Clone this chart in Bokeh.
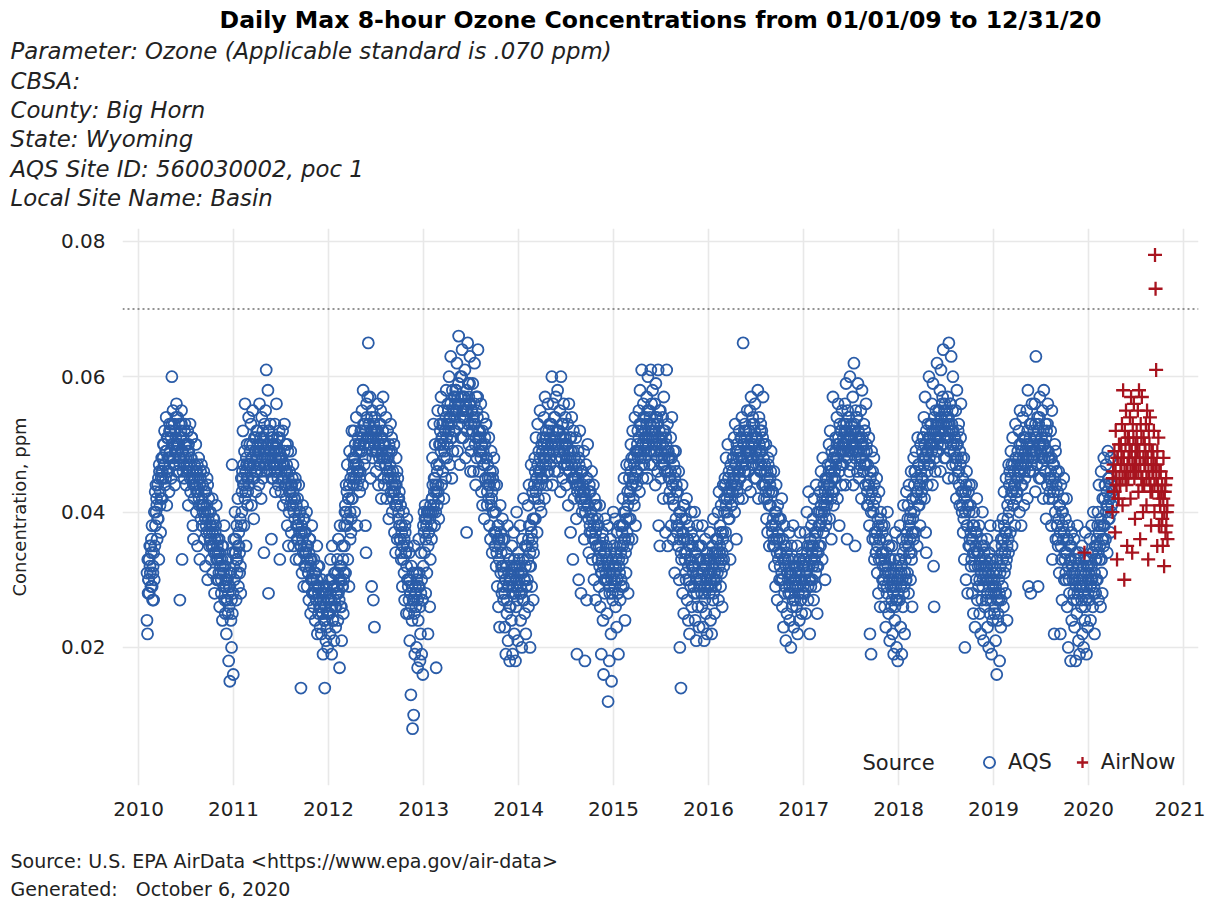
import calendar
from datetime import datetime, timedelta

from bokeh.plotting import figure
from bokeh.layouts import column
from bokeh.models import (Range1d, FixedTicker, DatetimeTickFormatter, NumeralTickFormatter,
                          Span, Label, Legend, LegendItem)
from bokeh.embed import file_html
from bokeh.resources import INLINE

FONT = "DejaVu Sans"

# ---------------- text ----------------
title_text = "Daily Max 8-hour Ozone Concentrations from 01/01/09 to 12/31/20"
subtitle_lines = [
    "Parameter: Ozone (Applicable standard is .070 ppm)",
    "CBSA:",
    "County: Big Horn",
    "State: Wyoming",
    "AQS Site ID: 560030002, poc 1",
    "Local Site Name: Basin",
]
footer_lines = [
    "Source: U.S. EPA AirData <https://www.epa.gov/air-data>",
    "Generated:\u00a0\u00a0 October 6, 2020",
]
y_axis_title = "Concentration, ppm"
legend_title = "Source"
series_names = ["AQS", "AirNow"]
standard_ppm = 0.070
tick_years = list(range(2010, 2022))
y_ticks = [0.02, 0.04, 0.06, 0.08]

# ---------------- data: daily max 8-hr ozone (ppb), one list per month ----------------
# (spread values: outer envelope of each month's cloud)
aqs_2010 = [
    [],
    [24, 22, 28, 30, 33, 35, 31, 29, 36, 38, 27, 32, 34],
    [30, 35, 38, 40, 42, 36, 44, 39, 33, 46, 41, 37, 45, 48],
    [42, 45, 50, 47, 52, 44, 49, 54, 41, 46, 51, 48, 43, 53],
    [48, 52, 45, 60, 50, 55, 47, 53, 44, 49, 51, 56, 46, 54],
    [46, 50, 53, 27, 48, 52, 55, 33, 49, 51, 47, 45, 53, 50],
    [44, 50, 47, 52, 41, 49, 46, 53, 43, 48, 51, 45, 38, 36],
    [42, 47, 44, 50, 40, 46, 35, 43, 48, 41, 33, 45, 39, 47],
    [38, 44, 41, 46, 36, 40, 32, 43, 37, 45, 30, 39, 42, 35],
    [36, 40, 33, 38, 42, 31, 35, 39, 28, 37, 34, 41, 30, 36],
    [34, 30, 36, 26, 33, 31, 28, 35, 24, 32, 29, 38, 27, 25],
    [30, 22, 27, 33, 25, 18, 29, 15, 31, 24, 20, 47, 34, 16],
]
aqs_2011 = [
    [36, 30, 40, 34, 27, 38, 33, 42, 29, 35, 31, 39, 28, 45],
    [40, 46, 52, 44, 38, 49, 56, 43, 35, 47, 50, 41, 45, 54],
    [44, 50, 47, 53, 41, 48, 55, 45, 39, 51, 46, 49, 43, 52],
    [46, 52, 49, 44, 56, 47, 50, 42, 54, 48, 45, 51, 34, 53],
    [48, 55, 61, 46, 50, 58, 28, 52, 47, 53, 49, 36, 45, 51],
    [45, 50, 47, 53, 43, 49, 56, 46, 51, 44, 48, 52, 33, 47],
    [43, 48, 45, 52, 41, 47, 53, 44, 50, 42, 46, 38, 49, 35],
    [40, 46, 43, 49, 37, 44, 41, 47, 35, 42, 39, 45, 33, 38],
    [36, 42, 38, 44, 33, 40, 35, 14, 37, 31, 41, 34, 29, 39],
    [32, 37, 34, 40, 29, 35, 31, 27, 36, 33, 25, 30, 38, 28],
    [30, 26, 33, 28, 24, 31, 27, 35, 22, 29, 25, 32, 26, 23],
    [27, 22, 30, 25, 19, 28, 24, 14, 26, 21, 29, 23, 20, 25],
]
aqs_2012 = [
    [25, 30, 22, 33, 27, 19, 35, 24, 29, 21, 31, 26, 23, 28],
    [28, 33, 24, 36, 30, 17, 38, 26, 32, 21, 35, 29, 25, 31],
    [35, 40, 31, 44, 38, 47, 33, 42, 29, 49, 36, 45, 39, 52],
    [42, 48, 45, 52, 40, 50, 47, 54, 38, 44, 51, 46, 49, 43],
    [46, 52, 49, 55, 44, 58, 50, 47, 53, 38, 34, 56, 51, 57],
    [65, 53, 50, 57, 45, 51, 29, 55, 48, 27, 52, 23, 54, 49],
    [46, 52, 49, 56, 44, 50, 53, 47, 55, 42, 51, 48, 57, 45],
    [44, 50, 47, 54, 42, 48, 52, 45, 39, 49, 46, 53, 43, 51],
    [40, 46, 43, 50, 37, 44, 34, 48, 41, 36, 45, 39, 42, 38],
    [36, 41, 33, 38, 29, 35, 40, 31, 27, 37, 34, 25, 39, 30],
    [30, 25, 34, 21, 28, 13, 32, 24, 8, 27, 10, 35, 19, 29],
    [26, 20, 31, 17, 24, 36, 29, 18, 22, 34, 19, 27, 16, 38],
]
aqs_2013 = [
    [40, 34, 41, 28, 39, 31, 40, 22, 37, 40, 26, 33, 40, 36],
    [42, 48, 40, 53, 45, 38, 50, 44, 17, 47, 41, 55, 43, 39],
    [47, 53, 50, 57, 44, 51, 46, 55, 42, 49, 52, 45, 58, 48],
    [50, 56, 53, 60, 47, 54, 63, 51, 45, 58, 49, 55, 52, 57],
    [52, 58, 55, 62, 49, 56, 66, 53, 47, 60, 51, 57, 64, 54],
    [51, 57, 54, 61, 48, 55, 37, 52, 65, 59, 50, 56, 63, 46],
    [49, 55, 52, 59, 46, 53, 62, 50, 44, 57, 48, 54, 64, 51],
    [46, 52, 49, 56, 43, 50, 41, 54, 47, 39, 51, 45, 53, 48],
    [41, 47, 44, 51, 38, 45, 36, 49, 42, 34, 46, 40, 48, 37],
    [35, 40, 32, 44, 29, 38, 26, 36, 23, 41, 31, 34, 28, 39],
    [32, 27, 36, 23, 30, 19, 34, 25, 38, 21, 29, 33, 18, 26],
    [30, 24, 35, 19, 28, 37, 22, 32, 18, 26, 40, 29, 21, 34],
]
aqs_2014 = [
    [33, 28, 38, 24, 31, 20, 36, 27, 42, 30, 25, 35, 22, 29],
    [35, 30, 41, 26, 44, 32, 20, 38, 47, 29, 36, 43, 27, 39],
    [42, 48, 39, 51, 45, 37, 53, 44, 49, 41, 55, 46, 40, 50],
    [45, 51, 48, 54, 42, 57, 47, 52, 44, 50, 56, 46, 49, 53],
    [47, 53, 50, 60, 44, 56, 49, 54, 46, 51, 57, 48, 52, 58],
    [46, 52, 49, 55, 43, 60, 48, 53, 45, 51, 56, 47, 50, 54],
    [44, 50, 47, 53, 41, 56, 46, 51, 37, 49, 54, 45, 33, 52],
    [42, 48, 45, 51, 39, 19, 44, 49, 30, 47, 52, 43, 28, 46],
    [40, 46, 43, 49, 36, 18, 42, 47, 27, 45, 50, 41, 34, 44],
    [37, 43, 40, 46, 33, 39, 44, 30, 42, 36, 27, 41, 35, 38],
    [33, 38, 29, 41, 26, 35, 19, 31, 37, 24, 16, 34, 28, 39],
    [30, 35, 25, 38, 12, 32, 18, 28, 36, 22, 15, 33, 27, 40],
]
aqs_2015 = [
    [35, 30, 39, 26, 33, 23, 37, 28, 19, 32, 38, 27, 34, 29],
    [38, 33, 42, 29, 45, 36, 24, 40, 31, 47, 35, 43, 28, 39],
    [42, 47, 39, 50, 44, 36, 52, 45, 48, 41, 54, 38, 46, 49],
    [46, 52, 49, 55, 43, 58, 48, 53, 61, 50, 45, 56, 47, 51],
    [48, 54, 51, 57, 45, 60, 50, 55, 47, 53, 61, 49, 52, 58],
    [47, 53, 50, 56, 44, 59, 49, 54, 46, 61, 38, 52, 35, 55],
    [45, 51, 48, 54, 42, 57, 47, 52, 37, 50, 61, 46, 35, 49],
    [42, 48, 45, 51, 38, 54, 44, 36, 49, 41, 31, 46, 39, 43],
    [38, 43, 35, 46, 30, 20, 40, 14, 33, 44, 28, 37, 25, 41],
    [34, 39, 30, 42, 27, 36, 24, 38, 22, 33, 29, 40, 26, 35],
    [32, 36, 28, 40, 24, 34, 21, 30, 38, 26, 35, 23, 29, 33],
    [30, 35, 26, 38, 23, 32, 21, 28, 36, 25, 33, 22, 29, 31],
]
aqs_2016 = [
    [33, 28, 37, 24, 31, 22, 35, 27, 39, 30, 25, 34, 29, 36],
    [36, 31, 40, 27, 43, 34, 38, 29, 41, 33, 26, 37, 44, 32],
    [40, 45, 37, 48, 42, 35, 50, 39, 46, 43, 33, 47, 41, 44],
    [43, 48, 45, 51, 40, 53, 47, 36, 50, 44, 49, 42, 52, 46],
    [45, 51, 48, 54, 42, 65, 50, 46, 53, 47, 52, 44, 55, 49],
    [46, 52, 49, 55, 43, 57, 50, 47, 54, 48, 53, 45, 56, 51],
    [45, 51, 48, 58, 42, 54, 49, 46, 53, 47, 52, 44, 57, 50],
    [42, 47, 44, 50, 39, 46, 37, 48, 43, 35, 45, 41, 49, 38],
    [38, 43, 35, 46, 32, 40, 29, 44, 36, 27, 41, 33, 39, 30],
    [34, 39, 30, 42, 26, 36, 23, 38, 28, 33, 21, 35, 25, 31],
    [33, 28, 37, 24, 31, 20, 35, 26, 29, 38, 23, 32, 27, 30],
    [31, 26, 35, 22, 29, 33, 24, 37, 27, 30, 25, 34, 28, 32],
]
aqs_2017 = [
    [33, 28, 37, 25, 31, 40, 35, 27, 43, 30, 22, 36, 29, 38],
    [35, 30, 39, 27, 42, 33, 37, 29, 44, 32, 25, 40, 34, 38],
    [38, 43, 35, 46, 40, 33, 48, 37, 44, 41, 30, 45, 39, 42],
    [42, 47, 44, 50, 39, 52, 46, 36, 49, 43, 57, 41, 48, 45],
    [45, 51, 48, 54, 42, 56, 50, 38, 53, 47, 52, 44, 55, 49],
    [47, 53, 50, 56, 44, 59, 52, 36, 55, 49, 54, 46, 60, 51],
    [47, 53, 50, 57, 44, 62, 52, 35, 55, 49, 54, 46, 59, 51],
    [45, 51, 48, 55, 42, 58, 50, 46, 53, 47, 52, 44, 56, 49],
    [41, 47, 44, 51, 38, 22, 46, 19, 49, 43, 36, 40, 48, 33],
    [37, 42, 34, 45, 31, 39, 28, 43, 36, 26, 40, 33, 38, 30],
    [34, 29, 38, 26, 32, 23, 36, 28, 40, 31, 25, 35, 21, 33],
    [31, 26, 35, 22, 29, 19, 33, 24, 37, 27, 20, 30, 18, 28],
]
aqs_2018 = [
    [33, 27, 38, 23, 31, 19, 36, 26, 41, 29, 22, 35, 30, 43],
    [36, 31, 41, 28, 44, 34, 39, 30, 46, 33, 26, 42, 37, 48],
    [40, 46, 37, 49, 43, 35, 51, 41, 47, 44, 38, 50, 42, 45],
    [45, 51, 48, 54, 42, 57, 37, 34, 49, 44, 53, 47, 60, 50],
    [47, 53, 50, 56, 44, 59, 32, 26, 52, 46, 55, 49, 62, 51],
    [49, 55, 52, 58, 46, 61, 54, 50, 57, 64, 53, 48, 56, 51],
    [48, 54, 51, 57, 45, 65, 53, 49, 56, 63, 52, 47, 60, 50],
    [45, 51, 48, 55, 42, 58, 50, 46, 53, 44, 41, 47, 56, 43],
    [40, 45, 37, 48, 33, 20, 43, 30, 46, 38, 28, 41, 35, 44],
    [36, 41, 32, 44, 28, 38, 25, 40, 34, 23, 37, 30, 42, 27],
    [34, 29, 38, 25, 32, 22, 36, 27, 40, 30, 21, 35, 26, 33],
    [32, 27, 36, 23, 30, 20, 34, 25, 38, 28, 19, 33, 24, 31],
]
aqs_2019 = [
    [30, 25, 35, 21, 28, 16, 33, 24, 38, 27, 18, 31, 23, 36],
    [34, 29, 39, 26, 43, 31, 37, 28, 45, 33, 24, 41, 36, 47],
    [40, 46, 37, 49, 43, 35, 51, 41, 47, 44, 38, 53, 42, 45],
    [43, 49, 46, 52, 40, 55, 47, 38, 50, 44, 54, 48, 41, 51],
    [45, 51, 48, 55, 42, 58, 29, 50, 46, 53, 28, 47, 56, 49],
    [46, 52, 49, 56, 43, 63, 51, 47, 54, 29, 53, 45, 57, 50],
    [45, 51, 48, 55, 42, 58, 50, 46, 53, 39, 52, 44, 56, 49],
    [42, 48, 45, 52, 38, 55, 33, 47, 43, 22, 50, 40, 36, 46],
    [38, 43, 35, 46, 31, 41, 22, 44, 33, 27, 40, 36, 45, 30],
    [34, 39, 30, 42, 26, 36, 20, 38, 28, 33, 18, 35, 24, 31],
    [32, 27, 36, 23, 30, 18, 34, 25, 38, 28, 21, 33, 19, 29],
    [31, 26, 35, 22, 29, 20, 33, 24, 37, 27, 19, 32, 23, 30],
]
aqs_2020 = [
    [32, 27, 36, 24, 30, 38, 34, 26, 40, 29, 22, 35, 28, 33],
    [35, 30, 40, 27, 44, 33, 38, 26, 46, 31, 28, 42, 36, 48],
    [38, 44, 36, 47, 41, 34, 49, 39, 45, 42, 37, 48, 40, 43],
    [], [], [], [], [], [], [], [], [],
]

# (core values: the dense middle of each month's cloud)
aqs_2010_core = [
    [],
    [31, 33, 30, 28, 32, 35, 34, 29, 31, 27],
    [40, 43, 44, 41, 39, 45, 47, 43, 42, 46],
    [46, 48, 50, 47, 45, 49, 51, 48, 46, 52],
    [49, 51, 53, 50, 48, 47, 52, 54, 50, 49],
    [50, 48, 47, 51, 53, 49, 46, 48, 52, 50],
    [48, 46, 49, 50, 47, 45, 48, 51, 46, 44],
    [45, 44, 46, 43, 47, 45, 42, 44, 46, 41],
    [42, 40, 41, 43, 39, 38, 41, 44, 40, 37],
    [38, 36, 35, 37, 39, 34, 36, 38, 33, 35],
    [33, 31, 34, 32, 30, 33, 35, 31, 29, 32],
    [29, 27, 30, 28, 26, 29, 31, 27, 25, 28],
]
aqs_2011_core = [
    [32, 34, 36, 33, 31, 35, 37, 34, 32, 38],
    [43, 45, 47, 44, 42, 46, 48, 45, 43, 47],
    [47, 49, 46, 48, 50, 47, 45, 49, 51, 48],
    [48, 50, 47, 49, 51, 46, 48, 52, 49, 47],
    [49, 47, 50, 48, 52, 49, 46, 48, 51, 50],
    [47, 49, 46, 48, 50, 47, 45, 49, 51, 48],
    [46, 48, 45, 47, 49, 46, 44, 47, 50, 45],
    [43, 41, 44, 42, 45, 43, 40, 42, 44, 41],
    [38, 36, 39, 37, 40, 35, 38, 36, 39, 37],
    [34, 32, 35, 33, 31, 34, 36, 32, 33, 30],
    [30, 28, 31, 29, 27, 30, 32, 28, 29, 26],
    [26, 28, 25, 27, 29, 24, 26, 28, 25, 27],
]
aqs_2012_core = [
    [27, 25, 28, 30, 26, 24, 29, 27, 31, 26],
    [29, 31, 28, 27, 32, 30, 26, 29, 33, 30],
    [38, 41, 40, 43, 39, 42, 44, 40, 37, 42],
    [46, 44, 47, 48, 45, 49, 46, 47, 50, 45],
    [50, 52, 49, 51, 53, 50, 48, 52, 54, 51],
    [51, 53, 50, 52, 54, 49, 51, 53, 50, 52],
    [51, 49, 52, 50, 48, 53, 51, 49, 52, 50],
    [48, 50, 47, 49, 46, 48, 50, 47, 45, 49],
    [44, 42, 45, 43, 41, 44, 46, 42, 40, 43],
    [36, 34, 37, 35, 33, 36, 38, 34, 32, 35],
    [29, 27, 30, 28, 26, 29, 31, 27, 25, 28],
    [28, 30, 27, 29, 31, 26, 28, 30, 27, 32],
]
aqs_2013_core = [
    [37, 39, 36, 38, 40, 35, 37, 39, 41, 38],
    [42, 44, 41, 43, 45, 40, 43, 46, 44, 42],
    [50, 52, 49, 51, 53, 50, 48, 52, 54, 51],
    [53, 55, 52, 54, 56, 53, 51, 55, 57, 54],
    [56, 58, 55, 57, 59, 56, 54, 57, 60, 55],
    [55, 57, 54, 56, 58, 55, 53, 57, 59, 56],
    [53, 55, 52, 54, 56, 53, 51, 55, 57, 52],
    [49, 51, 48, 50, 52, 49, 47, 50, 53, 48],
    [43, 45, 42, 44, 46, 41, 43, 45, 40, 44],
    [35, 37, 34, 36, 38, 33, 35, 37, 32, 36],
    [29, 31, 28, 30, 32, 27, 29, 31, 26, 30],
    [30, 32, 29, 31, 33, 28, 30, 32, 27, 31],
]
aqs_2014_core = [
    [30, 32, 29, 28, 31, 33, 27, 30, 32, 29],
    [35, 33, 36, 38, 34, 32, 37, 35, 39, 34],
    [44, 46, 43, 45, 47, 42, 46, 48, 44, 45],
    [49, 47, 50, 48, 51, 49, 46, 50, 52, 48],
    [51, 53, 50, 52, 49, 51, 54, 50, 48, 52],
    [50, 52, 49, 51, 48, 50, 53, 49, 47, 51],
    [48, 50, 47, 49, 46, 48, 51, 47, 45, 49],
    [45, 47, 44, 46, 43, 45, 48, 44, 42, 46],
    [42, 44, 41, 43, 40, 42, 45, 41, 39, 43],
    [38, 40, 37, 39, 36, 38, 41, 37, 35, 39],
    [33, 35, 32, 34, 31, 33, 36, 32, 30, 34],
    [31, 33, 30, 32, 29, 31, 34, 30, 28, 32],
]
aqs_2015_core = [
    [31, 29, 32, 34, 30, 28, 33, 31, 35, 30],
    [37, 35, 38, 40, 36, 34, 39, 37, 41, 36],
    [45, 43, 46, 48, 44, 42, 47, 45, 49, 44],
    [50, 48, 51, 53, 49, 47, 52, 50, 54, 49],
    [52, 50, 53, 55, 51, 49, 54, 52, 56, 51],
    [51, 49, 52, 54, 50, 48, 53, 51, 55, 50],
    [49, 47, 50, 52, 48, 46, 51, 49, 53, 48],
    [45, 43, 46, 48, 44, 42, 47, 45, 49, 44],
    [37, 35, 38, 40, 36, 34, 39, 37, 41, 36],
    [33, 31, 34, 36, 32, 30, 35, 33, 37, 32],
    [31, 29, 32, 34, 30, 28, 33, 31, 35, 30],
    [30, 28, 31, 33, 29, 27, 32, 30, 34, 29],
]
aqs_2016_core = [
    [31, 33, 30, 29, 32, 34, 28, 31, 33, 30],
    [34, 36, 33, 32, 35, 37, 31, 34, 36, 33],
    [42, 44, 41, 40, 43, 45, 39, 42, 44, 41],
    [46, 48, 45, 44, 47, 49, 43, 46, 48, 45],
    [49, 51, 48, 47, 50, 52, 46, 49, 51, 48],
    [50, 52, 49, 48, 51, 53, 47, 50, 52, 49],
    [49, 51, 48, 47, 50, 52, 46, 49, 51, 48],
    [44, 46, 43, 42, 45, 47, 41, 44, 46, 43],
    [37, 39, 36, 35, 38, 40, 34, 37, 39, 36],
    [32, 34, 31, 30, 33, 35, 29, 32, 34, 31],
    [30, 32, 29, 28, 31, 33, 27, 30, 32, 29],
    [30, 32, 29, 28, 31, 33, 27, 30, 32, 29],
]
aqs_2017_core = [
    [32, 30, 33, 31, 34, 29, 32, 35, 30, 33],
    [34, 32, 35, 33, 36, 31, 34, 37, 32, 35],
    [40, 38, 41, 39, 42, 37, 40, 43, 38, 41],
    [45, 43, 46, 44, 47, 42, 45, 48, 43, 46],
    [49, 47, 50, 48, 51, 46, 49, 52, 47, 50],
    [51, 49, 52, 50, 53, 48, 51, 54, 49, 52],
    [51, 49, 52, 50, 53, 48, 51, 54, 49, 52],
    [49, 47, 50, 48, 51, 46, 49, 52, 47, 50],
    [43, 41, 44, 42, 45, 40, 43, 46, 41, 44],
    [36, 34, 37, 35, 38, 33, 36, 39, 34, 37],
    [32, 30, 33, 31, 34, 29, 32, 35, 30, 33],
    [29, 27, 30, 28, 31, 26, 29, 32, 27, 30],
]
aqs_2018_core = [
    [31, 33, 29, 32, 30, 34, 28, 31, 33, 30],
    [37, 39, 35, 38, 36, 40, 34, 37, 39, 36],
    [44, 46, 42, 45, 43, 47, 41, 44, 46, 43],
    [49, 51, 47, 50, 48, 52, 46, 49, 51, 48],
    [51, 53, 49, 52, 50, 54, 48, 51, 53, 50],
    [53, 55, 51, 54, 52, 56, 50, 53, 55, 52],
    [53, 55, 51, 54, 52, 56, 50, 53, 55, 52],
    [49, 51, 47, 50, 48, 52, 46, 49, 51, 48],
    [41, 43, 39, 42, 40, 44, 38, 41, 43, 40],
    [35, 37, 33, 36, 34, 38, 32, 35, 37, 34],
    [32, 34, 30, 33, 31, 35, 29, 32, 34, 31],
    [30, 32, 28, 31, 29, 33, 27, 30, 32, 29],
]
aqs_2019_core = [
    [28, 26, 29, 31, 27, 25, 30, 28, 32, 27],
    [35, 33, 36, 38, 34, 32, 37, 35, 39, 34],
    [44, 42, 45, 47, 43, 41, 46, 44, 48, 43],
    [47, 45, 48, 50, 46, 44, 49, 47, 51, 46],
    [49, 47, 50, 52, 48, 46, 51, 49, 53, 48],
    [50, 48, 51, 53, 49, 47, 52, 50, 54, 49],
    [49, 47, 50, 52, 48, 46, 51, 49, 53, 48],
    [45, 43, 46, 48, 44, 42, 47, 45, 49, 44],
    [38, 36, 39, 41, 37, 35, 40, 38, 42, 37],
    [33, 31, 34, 36, 32, 30, 35, 33, 37, 32],
    [30, 28, 31, 33, 29, 27, 32, 30, 34, 29],
    [29, 27, 30, 32, 28, 26, 31, 29, 33, 28],
]
aqs_2020_core = [
    [31, 33, 29, 32, 30, 34, 28, 31, 33, 30],
    [36, 38, 34, 37, 35, 39, 33, 36, 38, 35],
    [42, 44, 40, 43, 41, 45, 39, 42, 44, 41],
    [], [], [], [], [], [], [], [], [],
]

airnow_2019 = [[], [], [], [], [], [], [], [], [], [], [], [34]]
airnow_2020 = [
    [], [], [],
    [40, 46, 43, 49, 37, 52, 45, 33, 48, 42, 50, 44],
    [44, 50, 47, 53, 41, 58, 48, 30, 52, 45, 55, 46, 35, 51],
    [45, 51, 48, 54, 42, 57, 49, 34, 53, 46, 56, 47, 39, 50],
    [46, 52, 49, 55, 43, 58, 48, 36, 53, 45, 57, 44, 40, 51],
    [44, 50, 47, 53, 41, 55, 48, 33, 52, 45, 54, 43, 38, 49],
    [43, 49, 46, 52, 40, 78, 73, 61, 47, 35, 44, 51, 38, 42],
    [41, 46, 38, 44, 35, 48, 32, 43, 37, 45, 40, 36],
    [], [],
]
airnow_2020_core = [
    [], [], [],
    [45, 47, 43, 46, 44, 48, 42, 45],
    [47, 49, 45, 48, 46, 50, 44, 47],
    [48, 50, 46, 49, 47, 51, 45, 48],
    [48, 50, 46, 49, 47, 51, 45, 48],
    [47, 49, 45, 48, 46, 50, 44, 47],
    [46, 48, 44, 47, 45, 49, 43, 46],
    [41, 43, 39, 42, 40, 44, 38, 41],
    [], [],
]

aqs_sets = [
    (2010, aqs_2010), (2011, aqs_2011), (2012, aqs_2012), (2013, aqs_2013),
    (2014, aqs_2014), (2015, aqs_2015), (2016, aqs_2016), (2017, aqs_2017),
    (2018, aqs_2018), (2019, aqs_2019), (2020, aqs_2020),
    (2010, aqs_2010_core), (2011, aqs_2011_core), (2012, aqs_2012_core),
    (2013, aqs_2013_core), (2014, aqs_2014_core), (2015, aqs_2015_core),
    (2016, aqs_2016_core), (2017, aqs_2017_core), (2018, aqs_2018_core),
    (2019, aqs_2019_core), (2020, aqs_2020_core),
]
airnow_sets = [(2019, airnow_2019), (2020, airnow_2020), (2020, airnow_2020_core)]


def expand(sets):
    xs, ys = [], []
    for year, months in sets:
        for m, vals in enumerate(months, start=1):
            n = len(vals)
            if n == 0:
                continue
            nd = calendar.monthrange(year, m)[1]
            start = datetime(year, m, 1)
            for i, v in enumerate(vals):
                xs.append(start + timedelta(days=(i + 0.5) * nd / n))
                ys.append(v / 1000.0)
    return xs, ys


aqs_x, aqs_y = expand(aqs_sets)
air_x, air_y = expand(airnow_sets)

W = 1205
HEADER_H = 228          # page y of the plot frame's top edge
FRAME_H = 557           # plot frame height
MAIN_H = 612            # frame + room for the x tick labels
FOOTER_H = 58
TOTAL_BOTTOM = HEADER_H + MAIN_H + FOOTER_H
FRAME_LEFT = 122
TEXT = "#222222"


def blank_fig(h):
    f = figure(width=W, height=h, output_backend="svg", toolbar_location=None,
               x_axis_location=None, y_axis_location=None,
               x_range=Range1d(0, 1), y_range=Range1d(0, 1),
               min_border=0, min_border_left=0, min_border_right=0,
               min_border_top=0, min_border_bottom=0)
    f.outline_line_color = None
    f.grid.visible = False
    f.background_fill_color = "white"
    f.border_fill_color = "white"
    return f


header = blank_fig(HEADER_H)
footer = blank_fig(FOOTER_H)
X0 = 0
try:
    header.frame_align = False
    footer.frame_align = False
except Exception:
    X0 = FRAME_LEFT

# ---------------- header ----------------
header.add_layout(Label(x=660 - X0, y=HEADER_H - 19, x_units="screen", y_units="screen",
                        text=title_text, text_font=FONT, text_font_size="23.6px",
                        text_font_style="bold", text_color="#000000",
                        text_baseline="middle", text_align="center"))
sub_y = [50, 80, 109, 138, 168, 197]
for txt, yy in zip(subtitle_lines, sub_y):
    header.add_layout(Label(x=10 - X0, y=HEADER_H - yy, x_units="screen", y_units="screen",
                            text=txt, text_font=FONT, text_font_size="22.8px",
                            text_font_style="italic", text_color=TEXT,
                            text_baseline="middle", text_align="left"))

# ---------------- main plot ----------------
p = figure(width=W, height=MAIN_H, x_axis_type="datetime", output_backend="svg",
           toolbar_location=None,
           x_range=Range1d(datetime(2009, 10, 31), datetime(2021, 2, 27)),
           y_range=Range1d(-0.0004, 0.0819),
           min_border_left=FRAME_LEFT, min_border_right=W - 1198, min_border_top=0,
           min_border_bottom=MAIN_H - FRAME_H)
p.outline_line_color = None
p.background_fill_color = "white"
p.border_fill_color = "white"

grid_color = "#e8e8e8"
p.xgrid.grid_line_color = grid_color
p.ygrid.grid_line_color = grid_color
p.xgrid.grid_line_width = 1.6
p.ygrid.grid_line_width = 1.6

tick_ms = [datetime(y, 1, 1).timestamp() * 1000 for y in tick_years]
p.xaxis.ticker = FixedTicker(ticks=tick_ms)
p.xaxis.formatter = DatetimeTickFormatter(years="%Y", months="%Y", days="%Y", hours="%Y")
p.yaxis.ticker = FixedTicker(ticks=y_ticks)
p.yaxis.formatter = NumeralTickFormatter(format="0.00")
for ax in (p.xaxis[0], p.yaxis[0]):
    ax.axis_line_color = None
    ax.major_tick_line_color = None
    ax.minor_tick_line_color = None
    ax.major_label_text_font = FONT
    ax.major_label_text_font_size = "20px"
    ax.major_label_text_color = TEXT
p.xaxis.major_label_standoff = 10
p.yaxis.major_label_standoff = 11
p.yaxis.axis_label = y_axis_title
p.yaxis.axis_label_text_font = FONT
p.yaxis.axis_label_text_font_size = "18px"
p.yaxis.axis_label_text_font_style = "normal"
p.yaxis.axis_label_text_color = TEXT
p.yaxis.axis_label_standoff = 28

p.add_layout(Span(location=standard_ppm, dimension="width", line_color="#6f6f6f",
                  line_width=1.6, line_dash="2 3"))

blue = "#2a5ca8"
red = "#a8141f"
r_aqs = p.scatter(aqs_x, aqs_y, marker="circle", size=11, fill_color=None,
                  line_color=blue, line_width=1.8)
r_air = p.scatter(air_x, air_y, marker="cross", size=14, line_color=red, line_width=2.3)

legend = Legend(items=[LegendItem(label=series_names[0], renderers=[r_aqs]),
                       LegendItem(label=series_names[1], renderers=[r_air])],
                location=(853, 9), orientation="horizontal",
                border_line_color=None, background_fill_alpha=0,
                label_text_font=FONT, label_text_font_size="21px",
                label_text_color=TEXT,
                glyph_width=28, glyph_height=28, label_standoff=5, spacing=16,
                padding=0, margin=0, label_height=20)
p.add_layout(legend)

p.add_layout(Label(x=862 - FRAME_LEFT, y=785 - 762, x_units="screen", y_units="screen",
                   text=legend_title, text_font=FONT, text_font_size="21px",
                   text_color=TEXT, text_baseline="middle", text_align="left"))

# ---------------- footer ----------------
foot_y = [860, 888]
for txt, yy in zip(footer_lines, foot_y):
    footer.add_layout(Label(x=10 - X0, y=TOTAL_BOTTOM - yy, x_units="screen", y_units="screen",
                            text=txt, text_font=FONT, text_font_size="19px",
                            text_color=TEXT, text_baseline="middle", text_align="left"))

layout = column(header, p, footer, spacing=0)
open("out.html", "w").write(file_html(layout, INLINE))
